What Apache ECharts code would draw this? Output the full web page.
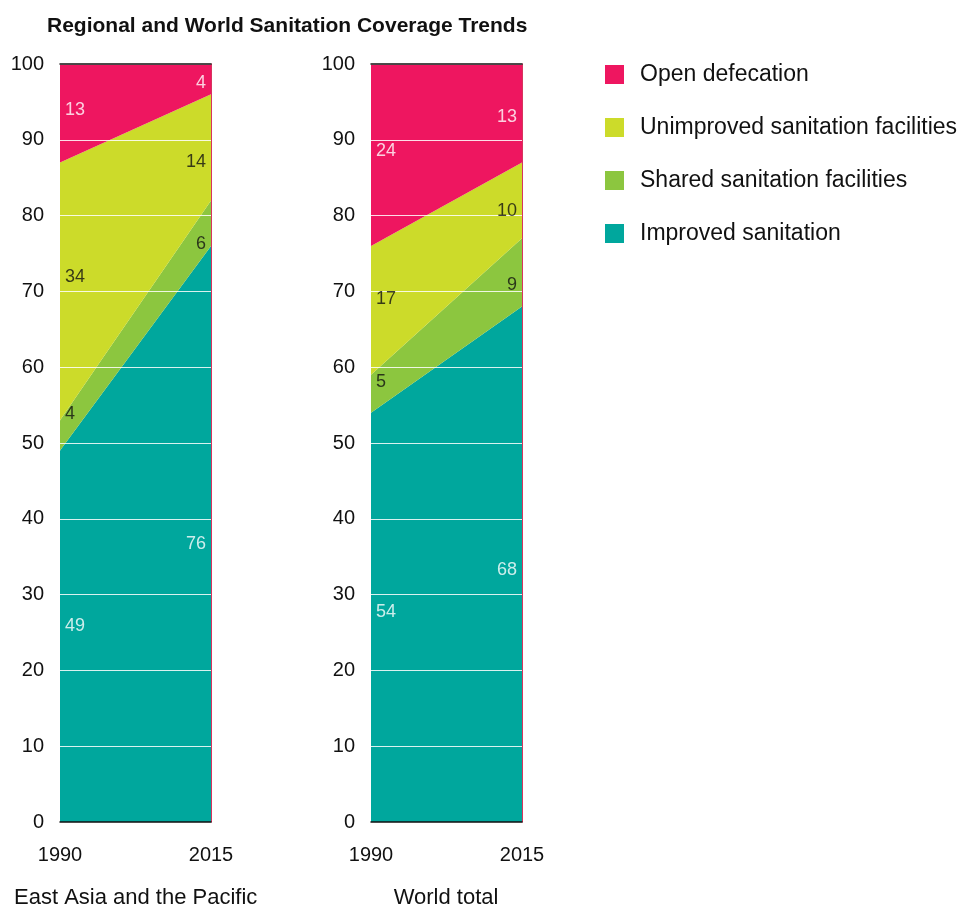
<!DOCTYPE html>
<html><head><meta charset="utf-8">
<script src="https://cdn.jsdelivr.net/npm/echarts@6/dist/echarts.min.js"></script>
<style>html,body{margin:0;padding:0;background:#fff}#c{width:963px;height:906px}</style>
</head><body><div id="c"></div>
<script>
const years = ['1990', '2015'];
const yTicks = [0,10,20,30,40,50,60,70,80,90,100];
const seriesNames = ['Improved sanitation', 'Shared sanitation facilities', 'Unimproved sanitation facilities', 'Open defecation'];
const legendOrder = ['Open defecation', 'Unimproved sanitation facilities', 'Shared sanitation facilities', 'Improved sanitation'];
const panelTitles = ['East Asia and the Pacific', 'World total'];
// East Asia and the Pacific
const eapImproved = [49, 76];
const eapShared = [4, 6];
const eapUnimproved = [34, 14];
const eapOpen = [13, 4];
// World total
const wImproved = [54, 68];
const wShared = [5, 9];
const wUnimproved = [17, 10];
const wOpen = [24, 13];

const colors = ['#00A79D', '#8CC63F', '#CCDB2A', '#EE1660'];
const labelColors = ['#ffffff', '#111111', '#111111', '#ffffff'];
const FONT = '"Liberation Sans", Arial, sans-serif';

const panels = [
  [eapImproved, eapShared, eapUnimproved, eapOpen],
  [wImproved, wShared, wUnimproved, wOpen]
];
const gridLefts = [60, 371];

const grids = [], xAxes = [], yAxes = [], series = [];
panels.forEach((panel, p) => {
  grids.push({left: gridLefts[p], width: 151, top: 64, height: 758});
  xAxes.push({
    gridIndex: p, type: 'category', data: years, boundaryGap: false, position: 'bottom',
    axisLine: {onZero: false, lineStyle: {color: '#111', width: 1.5}}, axisTick: {show: false},
    axisLabel: {fontSize: 20, color: '#111', margin: 23, fontFamily: FONT},
    z: 5
  });
  xAxes.push({
    gridIndex: p, type: 'category', data: years, boundaryGap: false, position: 'top',
    axisLine: {onZero: false, lineStyle: {color: '#111', width: 1.5}}, axisTick: {show: false},
    axisLabel: {show: false}, z: 5
  });
  yAxes.push({
    gridIndex: p, type: 'value', min: 0, max: 100, interval: 10, position: 'left',
    axisLine: {show: false, onZero: false}, axisTick: {show: false},
    axisLabel: {fontSize: 20, color: '#111', margin: 16, fontFamily: FONT},
    splitLine: {show: true, lineStyle: {color: 'rgba(255,255,255,0.85)', width: 1}},
    z: 4
  });
  yAxes.push({
    gridIndex: p, type: 'value', min: 0, max: 100, interval: 10, position: 'right',
    axisLine: {show: true, onZero: false, lineStyle: {color: '#D8345E', width: 1}}, axisTick: {show: false},
    axisLabel: {show: false}, splitLine: {show: false}, z: 4
  });
  panel.forEach((vals, i) => {
    series.push({
      name: seriesNames[i], type: 'line', stack: 'p' + p,
      xAxisIndex: p * 2, yAxisIndex: p * 2,
      data: vals, symbol: 'none', smooth: false,
      lineStyle: {width: 0, color: colors[i]},
      itemStyle: {color: colors[i]},
      areaStyle: {color: colors[i], opacity: 1},
      z: 2, silent: true
    });
  });
  // value labels: vertically centred in each band, measured a little inside the panel edge
  const labelData = [];
  years.forEach((yr, j) => {
    const t = j === 0 ? 0.1 : 0.9;
    let base = 0;
    panel.forEach((vals, i) => {
      const thick = vals[0] + (vals[1] - vals[0]) * t;
      const mid = base + thick / 2;
      base += thick;
      labelData.push({
        value: [yr, mid, vals[j]],
        label: {
          show: true,
          position: j === 0 ? 'right' : 'left',
          distance: 5,
          color: labelColors[i],
          fontSize: 18, fontFamily: FONT,
          formatter: String(vals[j])
        }
      });
    });
  });
  series.push({
    type: 'scatter', xAxisIndex: p * 2, yAxisIndex: p * 2,
    symbolSize: 0, data: labelData, z: 10, silent: true
  });
});

const chart = echarts.init(document.getElementById('c'), null, {renderer: 'canvas'});
chart.setOption({
  animation: false,
  backgroundColor: '#fff',
  color: colors,
  title: [
    {text: 'Regional and World Sanitation Coverage Trends', left: 47, top: 16, padding: 0,
     textStyle: {fontSize: 21, fontWeight: 'bold', color: '#111', fontFamily: FONT}},
    {text: panelTitles[0], left: 14, top: 887, padding: 0,
     textStyle: {fontSize: 22, fontWeight: 'normal', color: '#111', fontFamily: FONT}},
    {text: panelTitles[1], left: 446, textAlign: 'center', top: 887, padding: 0,
     textStyle: {fontSize: 22, fontWeight: 'normal', color: '#111', fontFamily: FONT}}
  ],
  legend: {
    data: legendOrder, orient: 'vertical', left: 605, top: 63, padding: 0,
    itemWidth: 19, itemHeight: 19, itemGap: 30, icon: 'rect',
    textStyle: {fontSize: 23, color: '#111', fontFamily: FONT, padding: [0, 0, 0, 11]},
    selectedMode: false
  },
  grid: grids, xAxis: xAxes, yAxis: yAxes, series: series
});
</script></body></html>
